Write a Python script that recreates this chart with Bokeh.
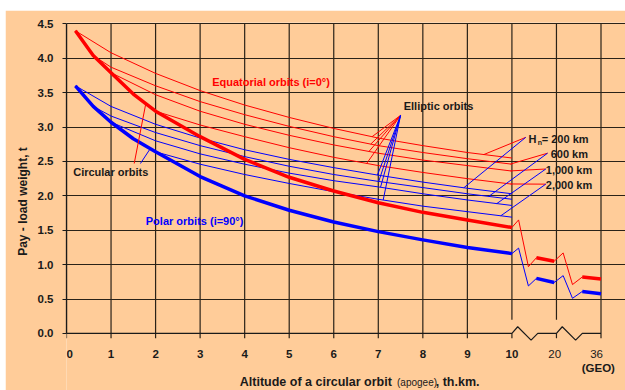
import numpy as np
from bokeh.plotting import figure
from bokeh.models import Range1d, Label, FixedTicker, Spacer
from bokeh.layouts import column, row
from bokeh.embed import file_html
from bokeh.resources import INLINE

FONT = "Liberation Sans"
RED = "#FF0000"
BLUE = "#0000FF"
INK = "#1a1a1a"
GRID = "#2a2218"
BG = "#FFCC99"

# ---- axis ticks (positions 0..10 = th.km, 11 = 20 th.km, 12 = 36 th.km GEO)
x_ticks = list(range(13))
x_tick_labels = ["0", "1", "2", "3", "4", "5", "6", "7", "8", "9", "10", "20", "36"]
y_ticks = [0.0, 0.5, 1.0, 1.5, 2.0, 2.5, 3.0, 3.5, 4.0, 4.5]
y_tick_labels = ["0.0", "0.5", "1.0", "1.5", "2.0", "2.5", "3.0", "3.5", "4.0", "4.5"]

# ---- circular orbits
circ_x = [0.2, 0.6, 1.0, 1.5, 2.0, 3.0, 4.0, 5.0, 6.0, 7.0, 8.0, 9.0, 10.0]
eq_circ = [4.40, 4.04, 3.79, 3.48, 3.23, 2.86, 2.53, 2.27, 2.07, 1.90, 1.76, 1.65, 1.54]
polar_circ = [3.60, 3.30, 3.07, 2.83, 2.64, 2.28, 2.00, 1.79, 1.62, 1.48, 1.36, 1.25, 1.16]

# ---- elliptic orbits, perigee Hn = 200, 600, 1000, 2000 km
ell_x_200 = [0.2, 1, 2, 3, 4, 5, 6, 7, 8, 9, 10]
ell_x_600 = [0.6, 1, 2, 3, 4, 5, 6, 7, 8, 9, 10]
ell_x_1000 = [1, 2, 3, 4, 5, 6, 7, 8, 9, 10]
ell_x_2000 = [2, 3, 4, 5, 6, 7, 8, 9, 10]
eq_ell_200 = [4.40, 4.08, 3.78, 3.53, 3.32, 3.14, 2.98, 2.84, 2.73, 2.63, 2.55]
eq_ell_600 = [4.04, 3.87, 3.60, 3.37, 3.18, 3.01, 2.86, 2.73, 2.63, 2.54, 2.46]
eq_ell_1000 = [3.79, 3.47, 3.23, 3.04, 2.88, 2.74, 2.62, 2.52, 2.44, 2.36]
eq_ell_2000 = [3.23, 3.03, 2.86, 2.70, 2.56, 2.44, 2.34, 2.25, 2.17]
polar_ell_200 = [3.60, 3.30, 3.04, 2.84, 2.67, 2.53, 2.41, 2.30, 2.20, 2.11, 2.03]
polar_ell_600 = [3.30, 3.16, 2.92, 2.73, 2.57, 2.43, 2.31, 2.21, 2.12, 2.03, 1.95]
polar_ell_1000 = [3.07, 2.80, 2.61, 2.46, 2.33, 2.22, 2.13, 2.03, 1.94, 1.86]
polar_ell_2000 = [2.64, 2.46, 2.31, 2.18, 2.06, 1.95, 1.85, 1.77, 1.69]

# ---- beyond 10 th.km (broken axis): 20 th.km and 36 th.km (GEO)
tail_x = [10, 10.15, 10.37, 10.55, 10.95, 11.15, 11.36, 11.58, 12]
eq_tail = [1.54, 1.65, 0.97, 1.10, 1.05, 1.17, 0.71, 0.82, 0.79]
polar_tail = [1.16, 1.24, 0.69, 0.80, 0.74, 0.84, 0.51, 0.61, 0.575]

# ---- zero line with axis-break marks
zero_x = [0, 10, 10.13, 10.43, 10.58, 11, 11.13, 11.43, 11.58, 12]
zero_y = [0, 0, 0.097, -0.097, 0, 0, 0.097, -0.097, 0, 0]
break_gap_top = 0.2

# ---- leader lines
circ_lab_red = (1.52, 2.47)
circ_lab_blue = (1.66, 2.47)
circ_hit_red_x = 1.78
circ_hit_blue_x = 1.88
ell_apex = (7.50, 3.17)
ell_red_hit_x = [6.86, 6.83, 6.79, 6.74]
ell_blue_hit_x = [6.98, 7.01, 7.05, 7.11]
hn_apex = [(10.31, 2.85), (10.80, 2.62), (10.76, 2.39), (10.76, 2.17)]
hn_red_hit_x = [9.37, 9.97, 9.97, 9.97]
hn_blue_hit_x = [8.92, 9.48, 9.66, 9.75]

TOP, BOT = 4.52, -0.83
p = figure(width=620, height=380, x_range=Range1d(0, 12.55), y_range=Range1d(BOT, TOP),
           output_backend="svg", toolbar_location=None, x_axis_location=None,
           min_border_left=61, min_border_right=0, min_border_top=12, min_border_bottom=0)
p.background_fill_color = BG
p.border_fill_color = BG
p.outline_line_color = None

# grid
p.xgrid.visible = False
p.ygrid.ticker = FixedTicker(ticks=y_ticks[1:])
p.ygrid.grid_line_color = GRID
p.ygrid.grid_line_width = 1.2
p.ygrid.bounds = (0, 12)
tick_len = 0.07
vx = x_ticks
v_bottom = [(break_gap_top if t in (10, 11) else -tick_len) for t in vx]
p.segment(x0=vx, y0=v_bottom, x1=vx, y1=[y_ticks[-1]] * len(vx), line_color=GRID, line_width=1.2)
p.segment(x0=[10, 11], y0=[-tick_len] * 2, x1=[10, 11], y1=[0, 0], line_color=GRID, line_width=1.2)
p.line(zero_x, zero_y, line_color=INK, line_width=1.2)

# y axis
p.yaxis.ticker = FixedTicker(ticks=y_ticks)
p.yaxis.bounds = (0, 4.5)
p.yaxis.major_label_overrides = {t: l for t, l in zip(y_ticks, y_tick_labels)}
p.yaxis.axis_line_color = INK
p.yaxis.axis_line_width = 1.3
p.yaxis.major_tick_line_color = INK
p.yaxis.major_tick_out = 4
p.yaxis.major_tick_in = 0
p.yaxis.minor_tick_line_color = None
p.yaxis.major_label_standoff = 9
p.yaxis.axis_label = "\u00a0\u00a0\u00a0Pay - load weight, t"
p.yaxis.axis_label_standoff = 5
p.yaxis.axis_label_text_font_size = "12px"
p.yaxis.major_label_text_font = FONT
p.yaxis.major_label_text_font_style = "bold"
p.yaxis.major_label_text_font_size = "11.5px"
p.yaxis.major_label_text_color = INK
p.yaxis.axis_label_text_font = FONT
p.yaxis.axis_label_text_font_style = "bold"
p.yaxis.axis_label_text_color = INK

# elliptic orbits (thin)
eq_sets = [(ell_x_200, eq_ell_200), (ell_x_600, eq_ell_600), (ell_x_1000, eq_ell_1000), (ell_x_2000, eq_ell_2000)]
po_sets = [(ell_x_200, polar_ell_200), (ell_x_600, polar_ell_600), (ell_x_1000, polar_ell_1000), (ell_x_2000, polar_ell_2000)]
for xs, ys in eq_sets:
    p.line(xs, ys, line_color=RED, line_width=1)
for xs, ys in po_sets:
    p.line(xs, ys, line_color=BLUE, line_width=1)

# circular orbits (thick) + broken tail
for ys, tail, col in [(eq_circ, eq_tail, RED), (polar_circ, polar_tail, BLUE)]:
    p.line(circ_x, ys, line_color=col, line_width=3.5, line_join="round")
    p.line(tail_x, tail, line_color=col, line_width=1)
    p.line(tail_x[3:5], tail[3:5], line_color=col, line_width=3.5)
    p.line(tail_x[7:9], tail[7:9], line_color=col, line_width=3.5)

# leaders: circular orbits
p.segment(x0=[circ_lab_red[0]], y0=[circ_lab_red[1]], x1=[circ_hit_red_x],
          y1=[float(np.interp(circ_hit_red_x, circ_x, eq_circ))], line_color=RED, line_width=1)
p.segment(x0=[circ_lab_blue[0]], y0=[circ_lab_blue[1]], x1=[circ_hit_blue_x],
          y1=[float(np.interp(circ_hit_blue_x, circ_x, polar_circ))], line_color=BLUE, line_width=1)

# leaders: elliptic orbits fan
p.segment(x0=[ell_apex[0]] * 4, y0=[ell_apex[1]] * 4, x1=ell_red_hit_x,
          y1=[float(np.interp(hx, xs, ys)) for hx, (xs, ys) in zip(ell_red_hit_x, eq_sets)],
          line_color=RED, line_width=1)
p.segment(x0=[ell_apex[0]] * 4, y0=[ell_apex[1]] * 4, x1=ell_blue_hit_x,
          y1=[float(np.interp(hx, xs, ys)) for hx, (xs, ys) in zip(ell_blue_hit_x, po_sets)],
          line_color=BLUE, line_width=1)

# leaders: Hn labels
p.segment(x0=[a[0] for a in hn_apex], y0=[a[1] for a in hn_apex], x1=hn_red_hit_x,
          y1=[float(np.interp(hx, xs, ys)) for hx, (xs, ys) in zip(hn_red_hit_x, eq_sets)],
          line_color=RED, line_width=1)
p.segment(x0=[a[0] for a in hn_apex], y0=[a[1] for a in hn_apex], x1=hn_blue_hit_x,
          y1=[float(np.interp(hx, xs, ys)) for hx, (xs, ys) in zip(hn_blue_hit_x, po_sets)],
          line_color=BLUE, line_width=1)


def lab(x, y, text, color=INK, size="11px", style="bold", align="left", baseline="middle"):
    p.add_layout(Label(x=x, y=y, text=text, text_color=color, text_font=FONT,
                       text_font_size=size, text_font_style=style,
                       text_align=align, text_baseline=baseline))


lab(3.27, 3.66, "Equatorial orbits (i=0°)", RED)
lab(1.78, 1.64, "Polar orbits (i=90°)", BLUE)
lab(0.15, 2.35, "Circular orbits")
lab(7.57, 3.31, "Elliptic orbits")
lab(10.37, 2.83, "H")
lab(10.58, 2.77, "n", size="7px")
lab(10.67, 2.83, "= 200 km")
lab(10.87, 2.61, "600 km")
lab(10.76, 2.38, "1,000 km")
lab(10.76, 2.16, "2,000 km")

# x tick labels (broken axis: 20 and 36 in plain type)
for t, l in zip(x_ticks, x_tick_labels):
    if t == 0:
        lab(t, -0.30, l, size="11.5px", align="left")
    elif t <= 10:
        lab(t, -0.30, l, size="11.5px", align="center")
lab(10.96, -0.30, x_tick_labels[11], size="11.5px", style="normal", align="center")
lab(11.90, -0.30, x_tick_labels[12], size="11.5px", style="normal", align="center")
lab(11.94, -0.51, "(GEO)", size="11.5px", align="center")
# x axis title
lab(3.89, -0.71, "Altitude of a circular orbit", size="12.5px")
lab(7.42, -0.71, "(apogee)", size="10px", style="normal")
lab(8.29, -0.71, ", th.km.", size="12.5px")

layout = column(Spacer(height=10, width=625), row(Spacer(width=5, height=380), p))
html = file_html(layout, INLINE, title="Pay-load weight")
open("out.html", "w").write(html)
